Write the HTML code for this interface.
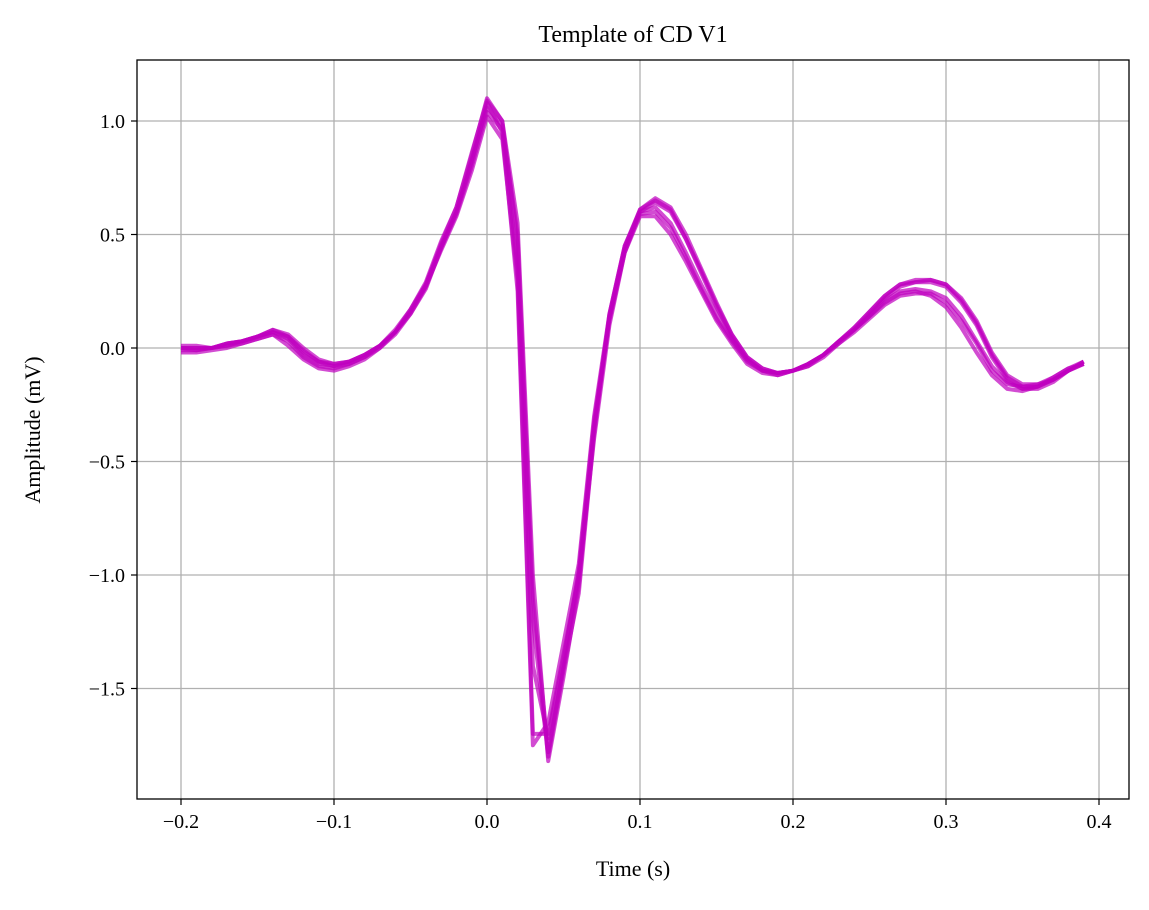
<!DOCTYPE html>
<html><head><meta charset="utf-8"><style>
body{margin:0;background:#fff;}
svg text{font-family:"Liberation Serif",serif;fill:#000;}
</style></head><body>
<svg id="chart" width="1149" height="905" viewBox="0 0 1149 905" xmlns="http://www.w3.org/2000/svg">
<rect width="1149" height="905" fill="#fff"/>
<g id="grid"></g>
<g id="series"></g>
<rect x="137" y="60" width="992" height="739" fill="none" stroke="#000" stroke-width="1.3"/>
<g id="ticks"></g>
<text x="633" y="42" font-size="24" text-anchor="middle">Template of CD V1</text>
<text x="633" y="876" font-size="22" text-anchor="middle">Time (s)</text>
<text x="40" y="430" font-size="22" text-anchor="middle" transform="rotate(-90 40 430)">Amplitude (mV)</text>
</svg>
<script>
const xTicks=[-0.2,-0.1,0.0,0.1,0.2,0.3,0.4];
const xTickLabels=["−0.2","−0.1","0.0","0.1","0.2","0.3","0.4"];
const yTicks=[1.0,0.5,0.0,-0.5,-1.0,-1.5];
const yTickLabels=["1.0","0.5","0.0","−0.5","−1.0","−1.5"];
const tStart=-0.2, tStep=0.01;
const traceA=[0.0,0.0,0.0,0.02,0.03,0.05,0.07,0.04,-0.03,-0.07,-0.08,-0.06,-0.03,0.01,0.08,0.17,0.28,0.45,0.60,0.82,1.08,0.95,0.25,-1.75,-1.65,-1.3,-0.95,-0.3,0.15,0.45,0.6,0.62,0.55,0.42,0.28,0.15,0.04,-0.05,-0.1,-0.11,-0.1,-0.08,-0.04,0.02,0.07,0.13,0.19,0.23,0.24,0.24,0.2,0.12,0.02,-0.1,-0.16,-0.17,-0.16,-0.13,-0.09,-0.07];
const traceB=[-0.02,-0.02,-0.01,0.0,0.02,0.04,0.06,0.01,-0.05,-0.09,-0.1,-0.08,-0.05,0.0,0.06,0.15,0.27,0.43,0.58,0.78,1.02,0.92,0.3,-1.7,-1.7,-1.35,-1.0,-0.35,0.12,0.42,0.58,0.58,0.5,0.38,0.25,0.12,0.02,-0.07,-0.11,-0.12,-0.1,-0.07,-0.03,0.02,0.08,0.14,0.2,0.24,0.25,0.23,0.18,0.09,-0.02,-0.12,-0.18,-0.19,-0.17,-0.13,-0.09,-0.06];
const traceC=[0.01,0.01,0.0,0.02,0.03,0.05,0.08,0.06,0.0,-0.05,-0.07,-0.06,-0.03,0.01,0.07,0.16,0.28,0.46,0.62,0.85,1.1,1.0,0.55,-1.0,-1.82,-1.45,-1.05,-0.35,0.15,0.45,0.61,0.66,0.62,0.5,0.35,0.2,0.06,-0.04,-0.09,-0.11,-0.1,-0.08,-0.03,0.03,0.09,0.16,0.23,0.28,0.3,0.3,0.28,0.22,0.12,-0.02,-0.12,-0.16,-0.16,-0.14,-0.1,-0.06];
const traceD=[-0.01,-0.01,0.0,0.01,0.03,0.05,0.07,0.05,-0.01,-0.06,-0.08,-0.07,-0.04,0.0,0.07,0.16,0.27,0.44,0.6,0.83,1.06,0.98,0.5,-1.1,-1.78,-1.4,-1.02,-0.4,0.1,0.42,0.6,0.64,0.6,0.48,0.33,0.18,0.05,-0.05,-0.1,-0.12,-0.1,-0.07,-0.03,0.03,0.08,0.15,0.22,0.27,0.29,0.29,0.27,0.2,0.1,-0.04,-0.14,-0.18,-0.18,-0.15,-0.1,-0.07];
const traceE=[0.0,-0.01,0.0,0.01,0.02,0.04,0.06,0.03,-0.04,-0.08,-0.09,-0.07,-0.04,0.01,0.07,0.15,0.26,0.44,0.59,0.8,1.04,0.96,0.35,-1.4,-1.72,-1.38,-0.98,-0.32,0.13,0.43,0.59,0.6,0.53,0.4,0.26,0.13,0.03,-0.06,-0.1,-0.11,-0.1,-0.07,-0.03,0.03,0.08,0.14,0.21,0.25,0.26,0.25,0.22,0.14,0.03,-0.08,-0.15,-0.18,-0.17,-0.14,-0.1,-0.07];
const traceF=[0.0,0.0,0.0,0.02,0.03,0.05,0.08,0.05,-0.02,-0.06,-0.07,-0.06,-0.03,0.01,0.07,0.17,0.29,0.47,0.62,0.86,1.09,1.0,0.45,-1.2,-1.8,-1.42,-1.08,-0.38,0.14,0.44,0.61,0.65,0.61,0.48,0.34,0.19,0.06,-0.04,-0.09,-0.11,-0.1,-0.07,-0.03,0.03,0.09,0.16,0.23,0.28,0.29,0.3,0.28,0.21,0.11,-0.03,-0.13,-0.17,-0.17,-0.14,-0.1,-0.06];
const traces=[traceA,traceB,traceC,traceD,traceE,traceF];

const X0=137,X1=1129,Y0=60,Y1=799;
function xs(t){return 487+(t/0.1)*153;}
function ys(v){return 348-v*227;}
const NS="http://www.w3.org/2000/svg";
const grid=document.getElementById('grid'),ticks=document.getElementById('ticks'),series=document.getElementById('series');
function mk(tag,attrs,parent){const e=document.createElementNS(NS,tag);for(const k in attrs)e.setAttribute(k,attrs[k]);parent.appendChild(e);return e;}
xTicks.forEach((t,i)=>{
  const x=xs(t);
  const g=mk('line',{x1:x,x2:x,y1:Y0,y2:Y1,stroke:'#b0b0b0','stroke-width':1.3},grid);
  
  
  const tk=mk('line',{x1:x,x2:x,y1:Y1,y2:Y1+6,stroke:'#000','stroke-width':1.2},ticks);
  
  
  const tx=mk('text',{x:x,y:Y1+29,'font-size':20,'text-anchor':'middle'},ticks);
  tx.textContent=xTickLabels[i];
  
  
});
yTicks.forEach((v,i)=>{
  const y=ys(v);
  const g=mk('line',{x1:X0,x2:X1,y1:y,y2:y,stroke:'#b0b0b0','stroke-width':1.3},grid);
  
  
  const tk=mk('line',{x1:X0-6,x2:X0,y1:y,y2:y,stroke:'#000','stroke-width':1.2},ticks);
  
  
  const tx=mk('text',{x:X0-12,y:y+7,'font-size':20,'text-anchor':'end'},ticks);
  tx.textContent=yTickLabels[i];
  
  
});
traces.forEach((tr,k)=>{
  const pts=tr.map((v,i)=>xs(tStart+i*tStep).toFixed(1)+','+ys(v).toFixed(1)).join(' ');
  const p=mk('polyline',{points:pts,fill:'none',stroke:'#bf00bf','stroke-width':4,'stroke-opacity':0.7,'stroke-linejoin':'round'},series);
  
  
});
</script>
</body></html>
